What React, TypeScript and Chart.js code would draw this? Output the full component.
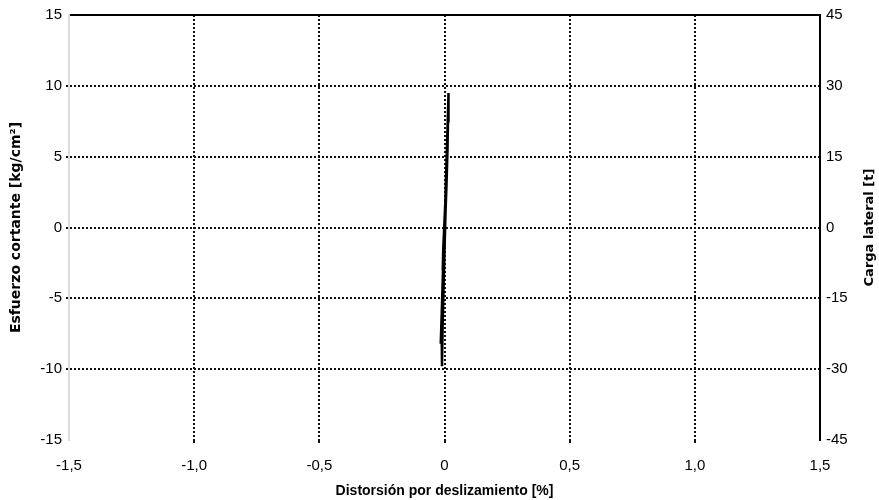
import React, { useEffect, useRef } from "react";
import { Chart, registerables } from "chart.js";

Chart.register(...registerables);

const loopX: number[] = [
  0, 0.004, 0.007, 0.005, 0.0, -0.004, -0.007, -0.005, 0.0,
  0.005, 0.009, 0.012, 0.006, 0.0, -0.005, -0.009, -0.011, -0.005, 0.002,
  0.008, 0.012, 0.014, 0.016, 0.012, 0.007, 0.001, -0.005, -0.009, -0.011, -0.010, -0.007, -0.002, 0.004,
  0.009, 0.013, 0.015, 0.010, 0.003, -0.003, -0.007, -0.010, -0.015, -0.011, -0.006, 0.0,
];
const loopY: number[] = [
  0, 1.5, 3, 1.5, -0.5, -1.5, -3, -1.5, 0.5,
  2.5, 4.5, 6, 3, 0, -3, -5, -6.5, -3.5, 0,
  3, 5.5, 7.5, 9.5, 7, 4, 0.5, -3, -5.5, -8, -9.8, -6.5, -3, 1,
  4, 6.5, 8.5, 5, 1, -2.5, -5, -7, -8.2, -6, -3, 0,
];

const xTicks: number[] = [-1.5, -1.0, -0.5, 0, 0.5, 1.0, 1.5];
const yLeftTicks: number[] = [-15, -10, -5, 0, 5, 10, 15];
const yRightTicks: number[] = [-45, -30, -15, 0, 15, 30, 45];

const xTitle = "Distorsión por deslizamiento [%]";
const yLeftTitle = "Esfuerzo cortante [kg/cm²]";
const yRightTitle = "Carga lateral [t]";

const fmt = (v: number) => (v === 0 ? "0" : v.toFixed(1).replace(".", ","));

const FAMILY = "'Liberation Sans', Arial, sans-serif";

const rightTitlePlugin = {
  id: "rightTitle",
  afterDraw(chart: any) {
    const ctx = chart.ctx;
    const area = chart.chartArea;
    ctx.save();
    ctx.translate(870, (area.top + area.bottom) / 2);
    ctx.rotate(-Math.PI / 2);
    ctx.fillStyle = "#000";
    ctx.font = "bold 13px 'DejaVu Sans', sans-serif";
    ctx.textAlign = "center";
    ctx.textBaseline = "middle";
    ctx.fillText(yRightTitle, 0, 0);
    ctx.restore();
  },
};

export default function App() {
  const ref = useRef<HTMLCanvasElement | null>(null);
  useEffect(() => {
    if (!ref.current) return;
    const data = loopX.map((x, i) => ({ x, y: loopY[i] }));
    const font = { family: FAMILY, size: 15 };
    const gridColor = (min: number, max: number) => (ctx: any) => {
      const v = ctx.tick ? ctx.tick.value : 0;
      return v === min || v === max ? "rgba(0,0,0,0)" : "#111";
    };
    const chart = new Chart(ref.current, {
      type: "scatter",
      data: {
        datasets: [
          {
            data,
            showLine: true,
            borderColor: "#000",
            backgroundColor: "#000",
            borderWidth: 2.5,
            pointRadius: 0,
            tension: 0,
            yAxisID: "y",
          },
        ],
      },
      options: {
        animation: false,
        responsive: true,
        maintainAspectRatio: false,
        layout: { padding: 0 },
        plugins: { legend: { display: false }, tooltip: { enabled: false } },
        scales: {
          x: {
            type: "linear",
            min: -1.5,
            max: 1.5,
            afterBuildTicks: (axis: any) => {
              axis.ticks = xTicks.map((v) => ({ value: v }));
            },
            afterFit: (axis: any) => {
              axis.height = 60;
            },
            ticks: { color: "#000", font, padding: 14, maxRotation: 0, callback: (v: any) => fmt(Number(v)) },
            grid: {
              color: gridColor(-1.5, 1.5),
              lineWidth: 2,
              tickLength: 3,
              drawTicks: true,
            },
            border: { display: false, dash: [2, 2] },
            title: { display: true, text: xTitle, color: "#000", font: { family: FAMILY, size: 14, weight: "bold" }, padding: { top: 5, bottom: 0 } },
          },
          xTop: {
            type: "linear",
            position: "top",
            min: -1.5,
            max: 1.5,
            afterFit: (axis: any) => {
              axis.height = 9;
            },
            ticks: { display: false },
            grid: { display: false, drawTicks: false },
            border: { display: true, color: "#000", width: 2 },
          },
          y: {
            type: "linear",
            position: "left",
            min: -15,
            max: 15,
            afterBuildTicks: (axis: any) => {
              axis.ticks = yLeftTicks.map((v) => ({ value: v }));
            },
            afterFit: (axis: any) => {
              axis.width = 69;
            },
            ticks: { color: "#000", font, padding: 4 },
            grid: {
              color: gridColor(-15, 15),
              lineWidth: 2,
              tickLength: 3,
            },
            border: { display: true, color: "#ddd", width: 2, dash: [2, 2] },
            title: { display: true, text: yLeftTitle, color: "#000", font: { family: "'DejaVu Sans', sans-serif", size: 14, weight: "bold" }, padding: { top: 8, bottom: 0 } },
          },
          y2: {
            type: "linear",
            position: "right",
            min: -45,
            max: 45,
            afterBuildTicks: (axis: any) => {
              axis.ticks = yRightTicks.map((v) => ({ value: v }));
            },
            afterFit: (axis: any) => {
              axis.width = 59;
            },
            ticks: { color: "#000", font, padding: 6 },
            grid: { display: false, drawTicks: false },
            border: { display: true, color: "#000", width: 2 },
          },
        },
      } as any,
      plugins: [rightTitlePlugin],
    });
    return () => chart.destroy();
  }, []);
  return (
    <div style={{ position: "fixed", left: 0, top: 0, width: 879, height: 500, background: "#fff" }}>
      <canvas ref={ref} />
    </div>
  );
}
